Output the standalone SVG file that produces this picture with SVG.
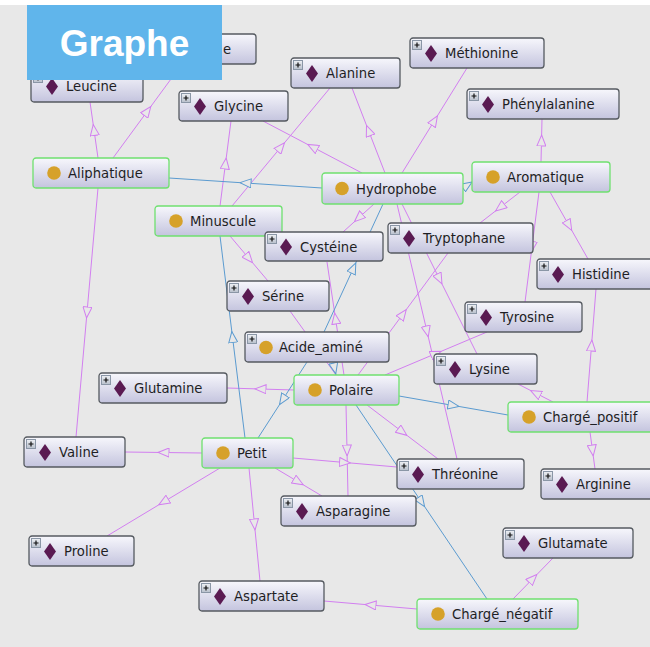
<svg xmlns="http://www.w3.org/2000/svg" xmlns:xlink="http://www.w3.org/1999/xlink" width="650" height="647" viewBox="0 0 650 647">
<style>
.box{fill:url(#ng);stroke-width:1.3}
.ind{stroke:#555a60}
.cls{stroke:#6fe06f}
.lbl{font-family:"DejaVu Sans","Liberation Sans",sans-serif;font-size:13.2px;fill:#1e1e24}
.p{fill:none;stroke:#d27ff0;stroke-width:1}
.b{fill:none;stroke:#5b9bd0;stroke-width:1}
.p{marker-mid:url(#mp)}
.b{marker-mid:url(#mb)}
.title{font-family:"Liberation Sans",Arial,sans-serif;font-weight:bold;font-size:37px;fill:#ffffff}
</style>
<defs>
<linearGradient id="ng" x1="0" y1="0" x2="0" y2="1">
<stop offset="0" stop-color="#f7f7fc"/>
<stop offset="1" stop-color="#c4c4de"/>
</linearGradient>
<linearGradient id="pg" x1="0" y1="0" x2="0" y2="1">
<stop offset="0" stop-color="#eef0f4"/>
<stop offset="1" stop-color="#b8c0cc"/>
</linearGradient>
<marker id="mp" viewBox="0 0 12 10" refX="6" refY="5" markerWidth="12" markerHeight="10" markerUnits="userSpaceOnUse" orient="auto">
<path d="M0.5,0.5 L11.5,5 L0.5,9.5 Z" fill="#e8e8e8" stroke="#d27ff0" stroke-width="1"/>
</marker>
<marker id="mb" viewBox="0 0 12 10" refX="6" refY="5" markerWidth="12" markerHeight="10" markerUnits="userSpaceOnUse" orient="auto">
<path d="M0.5,0.5 L11.5,5 L0.5,9.5 Z" fill="#e8e8e8" stroke="#5b9bd0" stroke-width="1"/>
</marker>
<g id="plus">
<rect x="0.5" y="0.5" width="9" height="9" fill="url(#pg)" stroke="#8a96a6" stroke-width="1"/>
<path d="M2.5,5 H7.5 M5,2.5 V7.5" stroke="#111" stroke-width="1.2"/>
</g>
<path id="dia" d="M0,-8.5 L6,0 L0,8.5 L-6,0 Z" fill="#5a1a52"/>
<circle id="dot" r="6.8" fill="#d6a12a"/>
</defs>

<rect x="0" y="0" width="650" height="647" fill="#ffffff"/>
<rect x="0" y="5" width="650" height="642" fill="#e8e8e8"/>

<g id="connectors">
<path class="p" d="M98,158 L94,130 L90,102"/>
<path class="p" d="M113,158 L147.5,111 L182,64"/>
<path class="p" d="M98,188 L87,312.5 L76,437"/>
<path class="p" d="M220,206 L225.5,163.5 L231,121"/>
<path class="p" d="M362,173 L312.5,147 L263,121"/>
<path class="p" d="M232,206 L281,147 L330,88"/>
<path class="p" d="M385,173 L368.5,130.5 L352,88"/>
<path class="p" d="M402,173 L434.5,120.5 L467,68"/>
<path class="p" d="M541,162 L541.5,140.5 L542,119"/>
<path class="p" d="M520,192 L500,207.5 L480,223"/>
<path class="p" d="M539,192 L532,247 L525,302"/>
<path class="p" d="M550,192 L569,225.5 L588,259"/>
<path class="p" d="M374,204 L358.5,218 L343,232"/>
<path class="p" d="M397,204 L427,331.5 L457,459"/>
<path class="p" d="M402,204 L439.5,279 L477,354"/>
<path class="p" d="M230,236 L249,258.5 L268,281"/>
<path class="p" d="M344,375 L335.5,318.5 L327,262"/>
<path class="p" d="M336,375 L313,343 L290,311"/>
<path class="p" d="M358,375 L403,314 L448,253"/>
<path class="p" d="M385,375 L436,353.5 L487,332"/>
<path class="p" d="M553,402 L535.5,393 L518,384"/>
<path class="p" d="M587,402 L591.5,345.5 L596,289"/>
<path class="p" d="M590,432 L592.5,450.5 L595,469"/>
<path class="p" d="M294,390 L260.5,389 L227,388"/>
<path class="p" d="M367,405 L402.5,432 L438,459"/>
<path class="p" d="M346,405 L347,450.5 L348,496"/>
<path class="p" d="M202,453 L163.5,452.5 L125,452"/>
<path class="p" d="M220,468 L163.5,502 L107,536"/>
<path class="p" d="M249,468 L254.5,524.5 L260,581"/>
<path class="p" d="M275,468 L298.5,482 L322,496"/>
<path class="p" d="M293,458 L345,462.5 L397,467"/>
<path class="p" d="M417,609 L370.5,605 L324,601"/>
<path class="p" d="M513,599 L533,578.5 L553,558"/>
<path class="b" d="M322,188 L245.5,183 L169,178"/>
<path class="b" d="M463,188 L467.5,185 L472,182"/>
<path class="b" d="M324,332 L353.5,268 L383,204"/>
<path class="b" d="M245,438 L232.5,337 L220,236"/>
<path class="b" d="M307,362 L282.5,400 L258,438"/>
<path class="b" d="M333,362 L334.5,368.5 L336,375"/>
<path class="b" d="M399,396 L453.5,405.5 L508,415"/>
<path class="b" d="M356,405 L421.5,502 L487,599"/>
</g>

<g id="Hidden_node" transform="translate(131,34)"><rect class="box ind" width="125" height="30" rx="3"/><text class="lbl" x="92" y="20">e</text></g>
<g id="Leucine" transform="translate(31,71)"><rect class="box ind" width="112" height="31" rx="3"/><use xlink:href="#plus" x="2" y="2"/><use xlink:href="#dia" x="21" y="15.5"/><text class="lbl" x="35" y="20">Leucine</text></g>
<g id="Glycine" transform="translate(179,91)"><rect class="box ind" width="109" height="30" rx="3"/><use xlink:href="#plus" x="2" y="2"/><use xlink:href="#dia" x="21" y="15.5"/><text class="lbl" x="35" y="20">Glycine</text></g>
<g id="Alanine" transform="translate(291,58)"><rect class="box ind" width="109" height="30" rx="3"/><use xlink:href="#plus" x="2" y="2"/><use xlink:href="#dia" x="21" y="15.5"/><text class="lbl" x="35" y="20">Alanine</text></g>
<g id="Methionine" transform="translate(410,38)"><rect class="box ind" width="134" height="30" rx="3"/><use xlink:href="#plus" x="2" y="2"/><use xlink:href="#dia" x="21" y="15.5"/><text class="lbl" x="35" y="20">Méthionine</text></g>
<g id="Phenylalanine" transform="translate(467,89)"><rect class="box ind" width="152" height="30" rx="3"/><use xlink:href="#plus" x="2" y="2"/><use xlink:href="#dia" x="21" y="15.5"/><text class="lbl" x="35" y="20">Phénylalanine</text></g>
<g id="Aliphatique" transform="translate(33,158)"><rect class="box cls" width="136" height="30" rx="3"/><use xlink:href="#dot" x="21" y="15"/><text class="lbl" x="35" y="20">Aliphatique</text></g>
<g id="Hydrophobe" transform="translate(322,173)"><rect class="box cls" width="141" height="31" rx="3"/><use xlink:href="#dot" x="20" y="15.5"/><text class="lbl" x="34" y="20.5">Hydrophobe</text></g>
<g id="Aromatique" transform="translate(472,162)"><rect class="box cls" width="138" height="30" rx="3"/><use xlink:href="#dot" x="21" y="15"/><text class="lbl" x="35" y="20">Aromatique</text></g>
<g id="Minuscule" transform="translate(155,206)"><rect class="box cls" width="127" height="30" rx="3"/><use xlink:href="#dot" x="21" y="15"/><text class="lbl" x="35" y="20">Minuscule</text></g>
<g id="Cysteine" transform="translate(265,232)"><rect class="box ind" width="118" height="29" rx="3"/><use xlink:href="#plus" x="2" y="2"/><use xlink:href="#dia" x="21" y="15"/><text class="lbl" x="35" y="19.5">Cystéine</text></g>
<g id="Tryptophane" transform="translate(388,223)"><rect class="box ind" width="145" height="30" rx="3"/><use xlink:href="#plus" x="2" y="2"/><use xlink:href="#dia" x="21" y="15.5"/><text class="lbl" x="35" y="20">Tryptophane</text></g>
<g id="Histidine" transform="translate(537,259)"><rect class="box ind" width="116" height="30" rx="3"/><use xlink:href="#plus" x="2" y="2"/><use xlink:href="#dia" x="21" y="15.5"/><text class="lbl" x="35" y="20">Histidine</text></g>
<g id="Serine" transform="translate(227,281)"><rect class="box ind" width="102" height="30" rx="3"/><use xlink:href="#plus" x="2" y="2"/><use xlink:href="#dia" x="21" y="15.5"/><text class="lbl" x="35" y="20">Sérine</text></g>
<g id="Tyrosine" transform="translate(465,302)"><rect class="box ind" width="117" height="30" rx="3"/><use xlink:href="#plus" x="2" y="2"/><use xlink:href="#dia" x="21" y="15.5"/><text class="lbl" x="35" y="20">Tyrosine</text></g>
<g id="Acide_amine" transform="translate(245,332)"><rect class="box ind" width="144" height="30" rx="3"/><use xlink:href="#plus" x="2" y="2"/><use xlink:href="#dot" x="21" y="15.5"/><text class="lbl" x="34" y="20">Acide_aminé</text></g>
<g id="Lysine" transform="translate(434,354)"><rect class="box ind" width="103" height="30" rx="3"/><use xlink:href="#plus" x="2" y="2"/><use xlink:href="#dia" x="21" y="15.5"/><text class="lbl" x="35" y="20">Lysine</text></g>
<g id="Glutamine" transform="translate(99,373)"><rect class="box ind" width="128" height="30" rx="3"/><use xlink:href="#plus" x="2" y="2"/><use xlink:href="#dia" x="21" y="15.5"/><text class="lbl" x="35" y="20">Glutamine</text></g>
<g id="Polaire" transform="translate(294,375)"><rect class="box cls" width="105" height="30" rx="3"/><use xlink:href="#dot" x="21" y="15"/><text class="lbl" x="35" y="20">Polaire</text></g>
<g id="Charge_positif" transform="translate(508,402)"><rect class="box cls" width="145" height="30" rx="3"/><use xlink:href="#dot" x="21" y="15"/><text class="lbl" x="35" y="20">Chargé_positif</text></g>
<g id="Valine" transform="translate(24,437)"><rect class="box ind" width="101" height="30" rx="3"/><use xlink:href="#plus" x="2" y="2"/><use xlink:href="#dia" x="21" y="15.5"/><text class="lbl" x="35" y="20">Valine</text></g>
<g id="Petit" transform="translate(202,438)"><rect class="box cls" width="91" height="30" rx="3"/><use xlink:href="#dot" x="21" y="15"/><text class="lbl" x="35" y="20">Petit</text></g>
<g id="Threonine" transform="translate(397,459)"><rect class="box ind" width="127" height="30" rx="3"/><use xlink:href="#plus" x="2" y="2"/><use xlink:href="#dia" x="21" y="15.5"/><text class="lbl" x="35" y="20">Thréonine</text></g>
<g id="Arginine" transform="translate(541,469)"><rect class="box ind" width="112" height="30" rx="3"/><use xlink:href="#plus" x="2" y="2"/><use xlink:href="#dia" x="21" y="15.5"/><text class="lbl" x="35" y="20">Arginine</text></g>
<g id="Asparagine" transform="translate(281,496)"><rect class="box ind" width="135" height="30" rx="3"/><use xlink:href="#plus" x="2" y="2"/><use xlink:href="#dia" x="21" y="15.5"/><text class="lbl" x="35" y="20">Asparagine</text></g>
<g id="Glutamate" transform="translate(503,528)"><rect class="box ind" width="130" height="30" rx="3"/><use xlink:href="#plus" x="2" y="2"/><use xlink:href="#dia" x="21" y="15.5"/><text class="lbl" x="35" y="20">Glutamate</text></g>
<g id="Proline" transform="translate(29,536)"><rect class="box ind" width="105" height="30" rx="3"/><use xlink:href="#plus" x="2" y="2"/><use xlink:href="#dia" x="21" y="15.5"/><text class="lbl" x="35" y="20">Proline</text></g>
<g id="Aspartate" transform="translate(199,581)"><rect class="box ind" width="125" height="30" rx="3"/><use xlink:href="#plus" x="2" y="2"/><use xlink:href="#dia" x="21" y="15.5"/><text class="lbl" x="35" y="20">Aspartate</text></g>
<g id="Charge_negatif" transform="translate(417,599)"><rect class="box cls" width="161" height="30" rx="3"/><use xlink:href="#dot" x="21" y="15"/><text class="lbl" x="35" y="20">Chargé_négatif</text></g>

<g id="title">
<rect x="27" y="5" width="195" height="75" fill="#60b5eb"/>
<text class="title" x="124.5" y="56" text-anchor="middle">Graphe</text>
</g>
</svg>
